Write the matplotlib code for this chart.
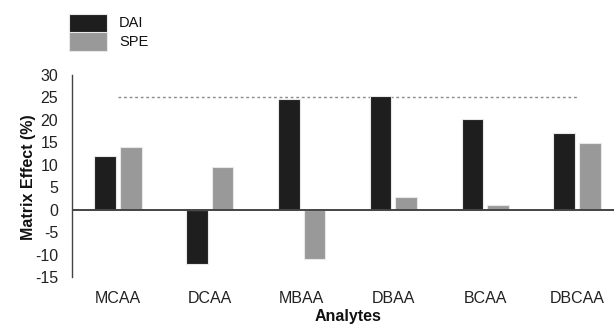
import matplotlib
matplotlib.use("Agg")
import matplotlib.pyplot as plt
from matplotlib.patches import Rectangle
import numpy as np

plt.rcParams['font.family'] = ['Liberation Sans', 'DejaVu Sans']

analytes = ["MCAA", "DCAA", "MBAA", "DBAA", "BCAA", "DBCAA"]
series_names = ["DAI", "SPE"]
dai = [12.0, -12.0, 24.6, 25.3, 20.3, 17.1]
spe = [14.0, 9.5, -10.9, 2.8, 1.0, 14.8]
threshold = 25
y_ticks = [-15, -10, -5, 0, 5, 10, 15, 20, 25, 30]
colors = ["#1e1e1e", "#999999"]

W, H = 614, 325
fig = plt.figure(figsize=(W / 100, H / 100), dpi=100)
ax = fig.add_axes([72 / W, 48 / H, (623 - 72) / W, (277 - 75) / H])

x = np.arange(len(analytes))
bw = 0.236
off = 0.139
ax.bar(x - off, dai, width=bw, color=colors[0], edgecolor="#e8e8e8",
       linewidth=0.8, zorder=2)
ax.bar(x + off, spe, width=bw, color=colors[1], edgecolor="#e8e8e8",
       linewidth=0.8, zorder=2)

ax.plot([x[0], x[-1]], [threshold, threshold], color="#8a8a8a",
        linestyle=(0, (2, 2)), linewidth=1.0, zorder=1)

ax.axhline(0, color="#444444", linewidth=1.4, zorder=3)

ax.set_xlim(-0.5, len(analytes) - 0.5)
ax.set_ylim(-15, 30)
ax.set_yticks(y_ticks)
ax.set_yticklabels([str(t) for t in y_ticks], fontsize=11.5, color="#222222")
ax.set_xticks(x)
ax.set_xticklabels(analytes, fontsize=11.5, color="#222222")
ax.tick_params(axis="both", length=0)
ax.tick_params(axis="x", pad=10)
ax.tick_params(axis="y", pad=10)

for s in ["top", "right", "bottom"]:
    ax.spines[s].set_visible(False)
ax.spines["left"].set_color("#444444")
ax.spines["left"].set_linewidth(1.0)

fig.text(28 / W, 1 - 177 / H, "Matrix Effect (%)", rotation=90,
         ha="center", va="center", fontsize=11.5, fontweight="bold",
         color="#111111")
fig.text(348 / W, 1 - 320.5 / H, "Analytes", ha="center", va="baseline",
         fontsize=11.5, fontweight="bold", color="#111111")

# stacked legend swatches
sw_x, sw_w, sw_h, top = 69, 38, 18.5, 14
for i, (name, c) in enumerate(zip(series_names, colors)):
    y0 = top + i * sw_h
    fig.add_artist(Rectangle((sw_x / W, 1 - (y0 + sw_h) / H), sw_w / W, sw_h / H,
                             transform=fig.transFigure, facecolor=c,
                             edgecolor="#e8e8e8", linewidth=0.8))
    fig.text(119 / W, 1 - (y0 + sw_h / 2) / H, name, ha="left", va="center",
             fontsize=10.5, color="#111111")

fig.savefig("out.png", dpi=100)
